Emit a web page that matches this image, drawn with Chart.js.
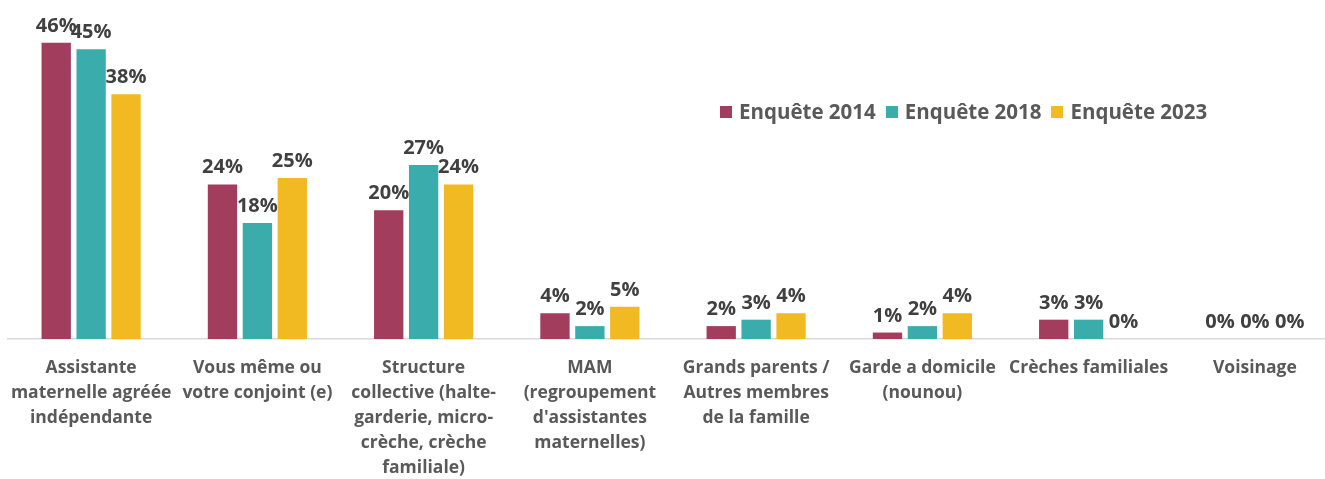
<!DOCTYPE html>
<html>
<head>
<meta charset="utf-8">
<script src="https://cdn.jsdelivr.net/npm/chart.js@4/dist/chart.umd.min.js"></script>
<style>
  html, body { margin: 0; padding: 0; background: #fff; overflow: hidden; }
  #wrap { position: relative; width: 1338px; height: 479px; }
  #legend { position: absolute; left: 720px; top: 97px; font: bold 20.5px "Open Sans", sans-serif; color: #595959; white-space: nowrap; }
  #legend span.item { margin-right: 10px; }
  #legend span.box { display: inline-block; width: 12px; height: 12px; margin-right: 7px; vertical-align: 1px; }
</style>
</head>
<body>
<div id="wrap">
  <canvas id="chart" width="1338" height="479"></canvas>
  <div id="legend"></div>
</div>
<script>
// categories (multi-line labels)
var categories = [
    ["Assistante", "maternelle agréée", "indépendante"],
    ["Vous même ou", "votre conjoint (e)"],
    ["Structure", "collective (halte-", "garderie, micro-", "crèche, crèche", "familiale)"],
    ["MAM", "(regroupement", "d'assistantes", "maternelles)"],
    ["Grands parents /", "Autres membres", "de la famille"],
    ["Garde a domicile", "(nounou)"],
    ["Crèches familiales"],
    ["Voisinage"]
];

// values in %
var enquete2014 = [46, 24, 20, 4, 2, 1, 3, 0];
var enquete2018 = [45, 18, 27, 2, 3, 2, 3, 0];
var enquete2023 = [38, 25, 24, 5, 4, 4, 0, 0];

var seriesNames = ["Enquête 2014", "Enquête 2018", "Enquête 2023"];
var colors = ["#A23D5E", "#3AACAC", "#F2BA22"];

// html legend
var legend = document.getElementById("legend");
seriesNames.forEach(function (name, i) {
    legend.innerHTML += '<span class="item"><span class="box" style="background:' + colors[i] + '"></span>' + name + '</span>';
});

// value labels above bars
var valueLabels = {
    id: "valueLabels",
    afterDatasetsDraw: function (chart) {
        var ctx = chart.ctx;
        ctx.save();
        ctx.font = "bold 20px 'Open Sans', sans-serif";
        ctx.fillStyle = "#404040";
        ctx.textAlign = "center";
        ctx.textBaseline = "alphabetic";
        chart.data.datasets.forEach(function (ds, i) {
            chart.getDatasetMeta(i).data.forEach(function (bar, j) {
                ctx.fillText(ds.data[j] + "%", bar.x, bar.y - 11);
            });
        });
        ctx.restore();
    }
};

var ctx = document.getElementById("chart").getContext("2d");
new Chart(ctx, {
    type: "bar",
    data: {
        labels: categories,
        datasets: [
            { label: seriesNames[0], data: enquete2014, backgroundColor: colors[0] },
            { label: seriesNames[1], data: enquete2018, backgroundColor: colors[1] },
            { label: seriesNames[2], data: enquete2023, backgroundColor: colors[2] }
        ]
    },
    options: {
        responsive: false,
        animation: false,
        layout: { padding: { left: 8, right: 0, top: 17, bottom: 0 } },
        plugins: {
            legend: { display: false },
            tooltip: { enabled: false }
        },
        datasets: {
            bar: { barPercentage: 0.84, categoryPercentage: 0.63 }
        },
        scales: {
            x: {
                grid: { display: false },
                border: { display: true, color: "#d9d9d9", width: 1.5 },
                ticks: {
                    color: "#595959",
                    font: { family: "'Open Sans'", size: 17.5, weight: "bold", lineHeight: 1.44 },
                    padding: 8,
                    maxRotation: 0,
                    autoSkip: false
                },
                afterFit: function (scale) { scale.height = 140; }
            },
            y: {
                display: false,
                min: 0,
                max: 50
            }
        }
    },
    plugins: [valueLabels]
});
</script>
</body>
</html>
